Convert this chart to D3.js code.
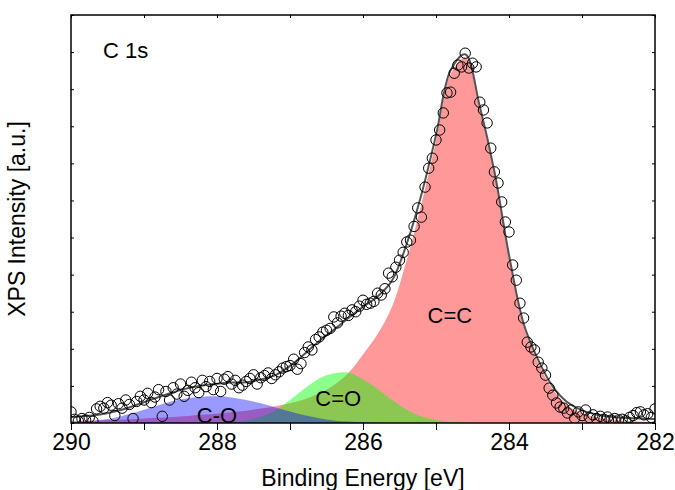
<!DOCTYPE html>
<html lang="en">
<head>
<meta charset="UTF-8">
<title>C 1s XPS fit</title>
<script src="https://d3js.org/d3.v7.min.js"></script>
<style>
  body { margin: 0; background: #fff; }
  svg text { font-family: "Liberation Sans", Arial, sans-serif; fill: #000; }
</style>
</head>
<body>
<svg id="chart" width="675" height="490"></svg>
<script>
// fit grid, binding energy in eV
const fitEnergy = [290.0, 289.8, 289.6, 289.4, 289.2, 289.0, 288.8, 288.6, 288.4, 288.2,
                   288.0, 287.8, 287.6, 287.4, 287.2, 287.0, 286.8, 286.6, 286.4, 286.2,
                   286.0, 285.8, 285.6, 285.4, 285.2, 285.0, 284.8, 284.6, 284.4, 284.2,
                   284.0, 283.8, 283.6, 283.4, 283.2, 283.0, 282.8, 282.6, 282.4, 282.2, 282.0];

// fitted components (intensity, x1000 counts)
const fitCC  = [0.05, 0.06, 0.07, 0.09, 0.10, 0.12, 0.14, 0.16, 0.19, 0.22,
                0.25, 0.29, 0.33, 0.39, 0.45, 0.53, 0.64, 0.80, 1.02, 1.35,
                1.85, 2.40, 3.15, 4.40, 5.90, 7.60, 9.40, 9.85, 8.45, 6.70,
                4.45, 2.60, 1.62, 0.90, 0.48, 0.26, 0.15, 0.09, 0.06, 0.04, 0.03];
const fitCdO = [0, 0, 0, 0, 0, 0, 0, 0, 0, 0,
                0.01, 0.03, 0.07, 0.17, 0.34, 0.62, 0.93, 1.20, 1.34, 1.36,
                1.18, 0.92, 0.62, 0.36, 0.18, 0.08, 0.03, 0.01, 0, 0,
                0, 0, 0, 0, 0, 0, 0, 0, 0, 0, 0];
const fitCO  = [0.03, 0.05, 0.08, 0.14, 0.24, 0.36, 0.48, 0.59, 0.67, 0.71,
                0.72, 0.69, 0.62, 0.53, 0.42, 0.31, 0.21, 0.13, 0.07, 0.04,
                0.02, 0.01, 0, 0, 0, 0, 0, 0, 0, 0,
                0, 0, 0, 0, 0, 0, 0, 0, 0, 0, 0];
const fitBackground = 0.08;

// measured points, 290 -> 282 eV every 0.05 eV
const measStart = 290, measStep = 0.05;
const measCounts = [
  0.30, 0.10, 0.05, 0.12, 0.08, 0.15, 0.05, 0.38, 0.45, 0.40, 0.55, 0.48, 0.20, 0.52, 0.40, 0.62, 0.50, 0.12, 0.58, 0.72,
  0.62, 0.80, 0.55, 0.70, 0.90, 0.18, 0.85, 0.62, 0.95, 0.78, 1.05, 0.72, 0.88, 1.10, 0.95, 0.82, 1.15, 0.98, 1.12, 0.90,
  1.20, 0.85, 1.18, 1.25, 1.05, 1.15, 0.95, 1.02, 1.12, 1.20, 1.30, 1.05, 1.22, 1.28, 1.35, 1.20, 1.30, 1.38, 1.48, 1.52,
  1.55, 1.72, 1.45, 1.60, 1.90, 2.05, 1.97, 2.25, 2.32, 2.45, 2.50, 2.55, 2.86, 2.70, 2.88, 2.96, 2.90, 3.05, 3.00, 3.15,
  3.31, 3.20, 3.23, 3.28, 3.50, 3.45, 3.62, 4.04, 3.94, 4.20, 4.39, 4.60, 4.88, 4.93, 5.30, 5.80, 5.55, 6.36, 6.87, 7.14,
  7.63, 7.90, 8.36, 8.90, 8.92, 9.43, 9.65, 9.60, 9.97, 9.57, 9.70, 9.60, 8.65, 8.44, 8.09, 7.41, 6.77, 6.47, 5.96, 5.42,
  5.15, 4.26, 3.85, 3.23, 2.83, 2.18, 2.05, 1.97, 1.64, 1.48, 1.29, 0.94, 0.75, 0.54, 0.43, 0.40, 0.27, 0.35, 0.13, 0.30,
  0.20, 0.35, 0.15, 0.22, 0.12, 0.18, 0.10, 0.16, 0.08, 0.12, 0.08, 0.10, 0.06, 0.15, 0.20, 0.28, 0.30, 0.22, 0.25, 0.15, 0.38
];

const xTicks = [290, 289, 288, 287, 286, 285, 284, 283, 282];

const W = 675, H = 490;
const margin = { top: 15, right: 20, bottom: 67, left: 71 };
const iw = W - margin.left - margin.right;
const ih = H - margin.top - margin.bottom;

const svg = d3.select('#chart');
const g = svg.append('g').attr('transform', `translate(${margin.left},${margin.top})`);

const x = d3.scaleLinear().domain([290, 282]).range([0, iw]);
const y = d3.scaleLinear().domain([0, 11]).range([ih, 0]);

svg.append('defs').append('clipPath').attr('id', 'plotclip')
  .append('rect').attr('width', iw).attr('height', ih);

const plot = g.append('g').attr('clip-path', 'url(#plotclip)');

// component areas: C=C first, then C=O, then C-O on top
const comps = [
  { vals: fitCC,  color: 'rgba(255,0,0,0.4)' },
  { vals: fitCdO, color: 'rgba(0,255,0,0.45)' },
  { vals: fitCO,  color: 'rgba(0,0,255,0.4)' }
];

const area = d3.area()
  .x(d => x(d[0]))
  .y0(y(0))
  .y1(d => y(d[1]))
  .curve(d3.curveCatmullRom);

comps.forEach(c => {
  plot.append('path')
    .datum(fitEnergy.map((e, i) => [e, c.vals[i]]))
    .attr('d', area)
    .attr('fill', c.color)
    .attr('stroke', 'none');
});

// envelope = sum of components + background
const envelope = fitEnergy.map((e, i) => [e, fitCC[i] + fitCdO[i] + fitCO[i] + fitBackground]);
const line = d3.line()
  .x(d => x(d[0]))
  .y(d => y(d[1]))
  .curve(d3.curveCatmullRom);

plot.append('path')
  .datum(envelope)
  .attr('d', line)
  .attr('fill', 'none')
  .attr('stroke', '#555')
  .attr('stroke-width', 2);

// measured data, open circles
plot.selectAll('circle.pt')
  .data(measCounts)
  .join('circle')
  .attr('class', 'pt')
  .attr('cx', (d, i) => x(measStart - i * measStep))
  .attr('cy', d => y(d))
  .attr('r', 5.2)
  .attr('fill', 'none')
  .attr('stroke', '#000')
  .attr('stroke-width', 1);

// axes
const fontSize = 23;

const xAxis = g.append('g')
  .attr('transform', `translate(0,${ih})`)
  .call(d3.axisBottom(x).tickValues(xTicks).tickSize(7).tickPadding(4)
    .tickFormat(d => d % 2 === 0 ? d : ''));
xAxis.selectAll('text').style('font-size', fontSize + 'px');

g.append('g')
  .call(d3.axisTop(x).tickValues(xTicks).tickSize(-3).tickFormat(''));
g.append('g')
  .call(d3.axisLeft(y).ticks(11).tickSize(-3).tickFormat(''));
g.append('g')
  .attr('transform', `translate(${iw},0)`)
  .call(d3.axisRight(y).ticks(11).tickSize(-3).tickFormat(''));

g.selectAll('.domain').remove();
g.selectAll('.tick line').attr('stroke', '#000').attr('stroke-width', 1);

g.append('rect')
  .attr('width', iw).attr('height', ih)
  .attr('fill', 'none')
  .attr('stroke', '#000')
  .attr('stroke-width', 1.5);

// axis titles
svg.append('text')
  .attr('x', margin.left + iw / 2)
  .attr('y', 486)
  .attr('text-anchor', 'middle')
  .style('font-size', fontSize + 'px')
  .text('Binding Energy [eV]');

svg.append('text')
  .attr('transform', `translate(25,${margin.top + ih / 2}) rotate(-90)`)
  .attr('text-anchor', 'middle')
  .style('font-size', fontSize + 'px')
  .text('XPS Intensity [a.u.]');

// annotations
const notes = [
  { t: 'C 1s', e: 289.56, v: 9.81, anchor: 'start' },
  { t: 'C=C',  e: 284.81, v: 2.68, anchor: 'middle' },
  { t: 'C=O',  e: 286.34, v: 0.43, anchor: 'middle' },
  { t: 'C-O',  e: 288.0,  v: -0.03, anchor: 'middle' }
];
g.selectAll('text.note')
  .data(notes)
  .join('text')
  .attr('class', 'note')
  .attr('x', d => x(d.e))
  .attr('y', d => y(d.v) - 1)
  .attr('text-anchor', d => d.anchor)
  .style('font-size', '22px')
  .text(d => d.t);
</script>
</body>
</html>
